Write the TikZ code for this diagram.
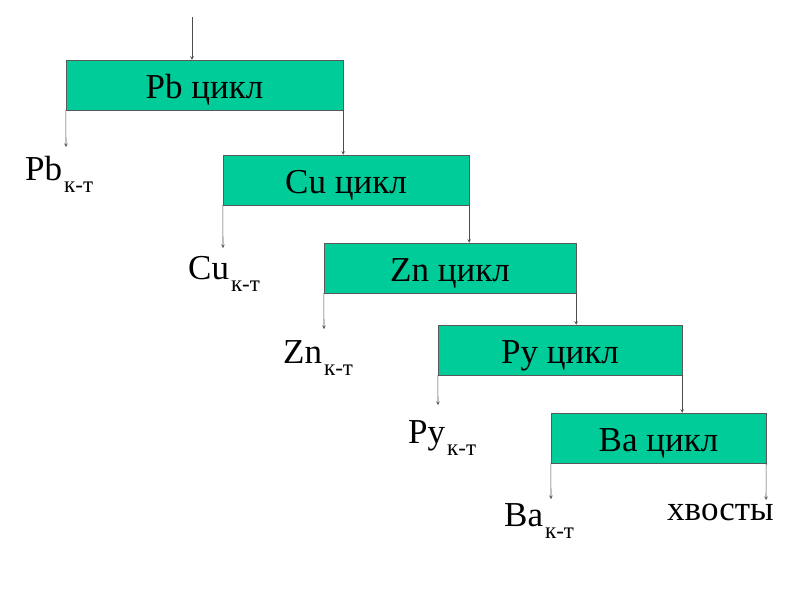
\documentclass[tikz,border=0pt]{standalone}
\usepackage{fontspec}
\setmainfont{Liberation Serif}
\definecolor{cyclegreen}{RGB}{0,204,153}
\newcommand{\kt}{\kern2pt\raisebox{-12pt}{\fontsize{23}{23}\selectfont к-т}}
\tikzset{
  cyc/.style={draw=black!65,fill=cyclegreen,minimum height=50pt,inner sep=0pt,text height=27pt,text depth=0pt,font=\fontsize{35}{36}\selectfont},
  lbl/.style={anchor=base west,inner sep=0pt,font=\fontsize{35}{36}\selectfont},
  arr/.style={->,>=stealth,black!70,line width=0.6pt}
}
\begin{document}
\begin{tikzpicture}[x=1pt,y=-1pt]
\useasboundingbox (0,0) rectangle (800,600);
% boxes
\node[cyc,minimum width=277pt] (pb) at (204.5,85) {Pb цикл};
\node[cyc,minimum width=246pt] (cu) at (346,180) {Cu цикл};
\node[cyc,minimum width=252pt] (zn) at (450,268) {Zn цикл};
\node[cyc,minimum width=244pt] (py) at (560,350) {Py цикл};
\node[cyc,minimum width=215pt] (ba) at (658.5,438) {Ba цикл};
% products
\node[lbl] (pbkt) at (25,180) {Pb\kt};
\node[lbl] (cukt) at (188,279) {Cu\kt};
\node[lbl] (znkt) at (283,363) {Zn\kt};
\node[lbl] (pykt) at (408,443) {Py\kt};
\node[lbl] (bakt) at (504,526) {Ba\kt};
\node[lbl] (tail) at (667,520) {хвосты};
% arrow ends
\coordinate (feed) at (192,17);
\coordinate (pbend) at (66,147);
\coordinate (cuend) at (223,248);
\coordinate (znend) at (324,329);
\coordinate (pyend) at (438,405);
\coordinate (baend) at (551,499);
\coordinate (tailend) at (766,500);
% arrows
\draw[arr] (feed) -- (feed |- pb.north);
\draw[arr] (pb.south west) -- (pbend);
\draw[arr] (pb.south east) -- (pb.south east |- cu.north);
\draw[arr] (cu.south west) -- (cuend);
\draw[arr] (cu.south east) -- (cu.south east |- zn.north);
\draw[arr] (zn.south west) -- (znend);
\draw[arr] (zn.south east) -- (zn.south east |- py.north);
\draw[arr] (py.south west) -- (pyend);
\draw[arr] (py.south east) -- (py.south east |- ba.north);
\draw[arr] (ba.south west) -- (baend);
\draw[arr] (ba.south east) -- (tailend);
\end{tikzpicture}
\end{document}
